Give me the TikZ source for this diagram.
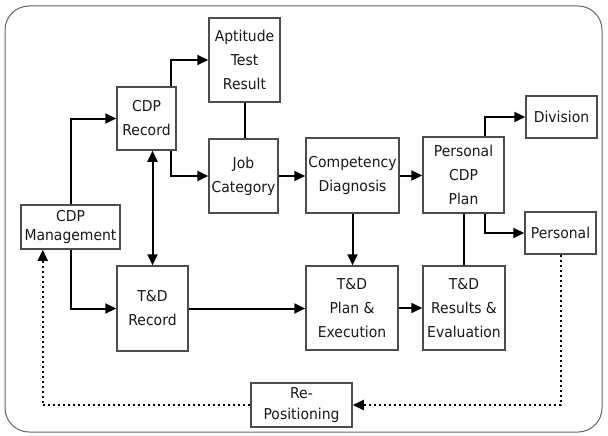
\documentclass[tikz,border=0pt]{standalone}
\usepackage{fontspec}
\setmainfont{DejaVu Sans}[FakeStretch=0.93]
\usetikzlibrary{arrows.meta}
\begin{document}
\begin{tikzpicture}[x=1pt,y=-1pt,
  box/.style={draw=black!70,line width=1.5pt,fill=white,inner sep=0pt,align=center,text=black!90,
    font=\fontsize{15}{24}\selectfont},
  arr/.style={line width=2pt,-{Triangle[length=11pt,width=10pt]}},
  plain/.style={line width=2pt},
  dotarr/.style={line width=2pt,dash pattern=on 2pt off 3pt,-{Triangle[length=11pt,width=10pt]}}]
\useasboundingbox (0,0) rectangle (608,436);
\draw[black!60,line width=1pt,rounded corners=24pt] (5,6) rectangle (602,432);

\node[box,minimum width=71pt,minimum height=84pt] (apt) at (244.5,60) {Aptitude\\Test\\Result};
\node[box,minimum width=59pt,minimum height=63pt] (cdpr) at (146.5,118.5) {CDP\\Record};
\node[box,minimum width=69pt,minimum height=74pt] (job) at (243.5,176) {Job\\Category};
\node[box,minimum width=93pt,minimum height=75pt] (comp) at (352.5,175.5) {Competency\\Diagnosis};
\node[box,minimum width=81pt,minimum height=76pt] (pcdp) at (463.5,175) {Personal\\CDP\\Plan};
\node[box,minimum width=71pt,minimum height=42pt] (div) at (561.5,117) {Division};
\node[box,minimum width=71pt,minimum height=42pt] (pers) at (560.5,233) {Personal};
\node[box,minimum width=92pt,minimum height=84pt] (tdplan) at (352,308) {T\&D\\Plan \&\\Execution};
\node[box,minimum width=82pt,minimum height=84pt] (tdres) at (464,308) {T\&D\\Results \&\\Evaluation};
\node[box,minimum width=99pt,minimum height=44pt,font=\fontsize{15}{19}\selectfont] (cdpm) at (70.5,227) {CDP\\Management};
\node[box,minimum width=71pt,minimum height=85pt] (tdrec) at (152.5,308.5) {T\&D\\Record};
\node[box,minimum width=101pt,minimum height=44pt,font=\fontsize{15}{21}\selectfont] (repos) at (301.5,405) {Re-\\Positioning};

\draw[arr] (cdpm.north) |- (cdpr.west);
\draw[arr] (cdpm.south) |- (tdrec.west);
\draw[line width=2pt,{Triangle[length=11pt,width=10pt]}-{Triangle[length=11pt,width=10pt]}] (tdrec.north) -- (tdrec.north |- cdpr.south);
\draw[arr] ([xshift=-6pt]cdpr.north east) |- (apt.west);
\draw[arr] ([xshift=-6pt]cdpr.south east) |- (job.west);
\draw[plain] (apt.south) -- (apt.south |- job.north);
\draw[arr] (job.east) -- (job.east -| comp.west);
\draw[arr] (comp.east) -- (comp.east -| pcdp.west);
\draw[arr] (comp.south) -- (comp.south |- tdplan.north);
\draw[arr] ([xshift=-20pt]pcdp.north east) |- (div.west);
\draw[arr] ([xshift=-20pt]pcdp.south east) |- (pers.west);
\draw[plain] (pcdp.south) -- (pcdp.south |- tdres.north);
\draw[arr] (tdrec.east) -- (tdrec.east -| tdplan.west);
\draw[arr] (tdplan.east) -- (tdplan.east -| tdres.west);
\draw[dotarr] (pers.south) |- (repos.east);
\draw[dotarr] (repos.west) -| ([xshift=22.5pt]cdpm.south west);
\end{tikzpicture}
\end{document}
